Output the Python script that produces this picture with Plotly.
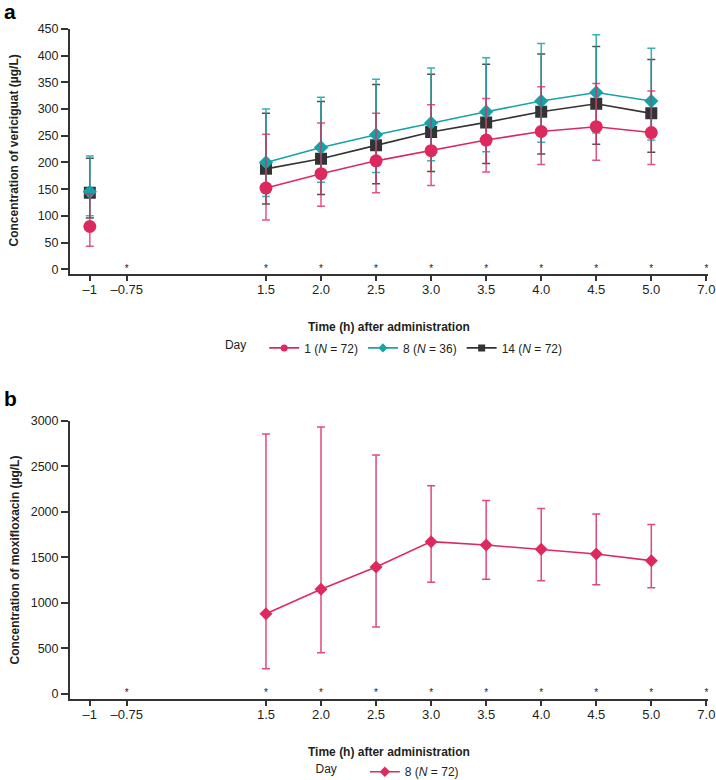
import plotly.graph_objects as go

# time points (h) and tick labels of the shared x axis
tick_times = [-1, -0.75, 1.5, 2.0, 2.5, 3.0, 3.5, 4.0, 4.5, 5.0, 7.0]
tick_text = ["\u20131", "\u20130.75", "1.5", "2.0", "2.5", "3.0", "3.5", "4.0", "4.5", "5.0", "7.0"]
star_times = [-0.75, 1.5, 2.0, 2.5, 3.0, 3.5, 4.0, 4.5, 5.0, 7.0]

# panel a: vericiguat
veri_times = [-1, 1.5, 2.0, 2.5, 3.0, 3.5, 4.0, 4.5, 5.0]
day1_mean = [80, 152, 179, 203, 222, 242, 258, 267, 256]
day1_upper = [141, 253, 274, 292, 308, 320, 342, 348, 334]
day1_lower = [43, 92, 118, 143, 157, 182, 196, 204, 196]
day8_mean = [145, 200, 228, 252, 274, 295, 315, 331, 315]
day8_upper = [212, 300, 322, 356, 377, 396, 423, 439, 414]
day8_lower = [100, 136, 163, 181, 203, 220, 238, 255, 242]
day14_mean = [143, 188, 207, 232, 257, 275, 295, 310, 292]
day14_upper = [208, 292, 314, 346, 365, 384, 403, 417, 393]
day14_lower = [96, 122, 140, 160, 183, 198, 216, 234, 219]

# panel b: moxifloxacin
moxi_times = [1.5, 2.0, 2.5, 3.0, 3.5, 4.0, 4.5, 5.0]
moxi_mean = [882, 1150, 1395, 1674, 1637, 1590, 1538, 1465]
moxi_upper = [2857, 2934, 2626, 2289, 2125, 2037, 1978, 1861]
moxi_lower = [278, 454, 736, 1227, 1260, 1245, 1201, 1168]

# the x axis is not linear: place each time at its slot on the axis
slot = {-1: -3.2, -0.75: -2.53, 1.5: 0, 2.0: 1, 2.5: 2, 3.0: 3, 3.5: 4,
        4.0: 5, 4.5: 6, 5.0: 7, 7.0: 8}

PINK = "#DC2A5F"
TEAL = "#16A3A7"
DARK = "#333333"
TXT = "#231F20"
FONT = "Arial, Liberation Sans, sans-serif"
NARROW = "Liberation Sans Narrow, Arial Narrow, Liberation Sans, sans-serif"


def series(times, mean, upper, lower, color, symbol, size, ax, errcol):
    # pre-dose point is not joined to the post-dose curve
    x, y, up, dn = [], [], [], []
    for i, t in enumerate(times):
        if i > 0 and times[i - 1] < 0 <= t:
            x.append(None); y.append(None); up.append(None); dn.append(None)
        x.append(slot[t])
        y.append(mean[i])
        up.append(upper[i] - mean[i])
        dn.append(mean[i] - lower[i])
    return go.Scatter(
        x=x, y=y, mode="lines+markers", connectgaps=False, showlegend=False,
        line=dict(color=color, width=1.6),
        marker=dict(color=color, symbol=symbol, size=size),
        error_y=dict(type="data", array=up, arrayminus=dn,
                     color=errcol, thickness=1.5, width=4),
        xaxis="x" if ax == 1 else "x2", yaxis="y" if ax == 1 else "y2",
    )


def legend_entry(name, color, symbol, size, legend, rank, ax):
    # legend-only trace, so the key symbol can be smaller than the plotted marker
    return go.Scatter(
        x=[None], y=[None], name=name, mode="lines+markers",
        line=dict(color=color, width=1.6), marker=dict(color=color, symbol=symbol, size=size),
        legend=legend, legendrank=rank,
        xaxis="x" if ax == 1 else "x2", yaxis="y" if ax == 1 else "y2",
    )


fig = go.Figure()
fig.add_trace(series(veri_times, day14_mean, day14_upper, day14_lower,
                     DARK, "square", 12, 1, "rgba(51,51,51,0.85)"))
fig.add_trace(series(veri_times, day8_mean, day8_upper, day8_lower,
                     TEAL, "diamond", 11, 1, "rgba(22,163,167,0.85)"))
fig.add_trace(series(veri_times, day1_mean, day1_upper, day1_lower,
                     PINK, "circle", 13, 1, "rgba(220,42,95,0.8)"))
fig.add_trace(series(moxi_times, moxi_mean, moxi_upper, moxi_lower,
                     PINK, "diamond", 10, 2, "rgba(220,42,95,0.85)"))

fig.add_trace(legend_entry("1 (<i>N</i> = 72)", PINK, "circle", 7, "legend", 1, 1))
fig.add_trace(legend_entry("8 (<i>N</i> = 36)", TEAL, "diamond", 7, "legend", 2, 1))
fig.add_trace(legend_entry("14 (<i>N</i> = 72)", DARK, "square", 7, "legend", 3, 1))
fig.add_trace(legend_entry("8 (<i>N</i> = 72)", PINK, "diamond", 8, "legend2", 1, 2))

# asterisks along the baseline of each panel
for xa, ya in [("x", "y"), ("x2", "y2")]:
    fig.add_trace(go.Scatter(
        x=[slot[t] for t in star_times], y=[0] * len(star_times), mode="text",
        text=["*"] * len(star_times), textposition="middle center",
        textfont=dict(size=10, color="#222222", family=FONT),
        showlegend=False, hoverinfo="skip", cliponaxis=False, xaxis=xa, yaxis=ya))

xaxis_style = dict(
    range=[-3.56, 8.03], tickvals=[slot[t] for t in tick_times], ticktext=tick_text,
    showline=True, linecolor=DARK, linewidth=2, ticks="outside", ticklen=5,
    tickwidth=1.5, tickcolor=DARK, showgrid=False, zeroline=False, automargin=False,
    ticklabelstandoff=-3,
    tickfont=dict(family=NARROW, size=13, color=TXT),
)
yaxis_style = dict(
    showline=True, linecolor=DARK, linewidth=2, ticks="outside", ticklen=7,
    tickwidth=1.5, tickcolor=DARK, showgrid=False, zeroline=False, automargin=False,
    tickfont=dict(family=FONT, size=12.5, color=TXT),
)

fig.update_layout(
    width=716, height=780,
    margin=dict(l=70, r=8, t=29, b=81, autoexpand=False),
    paper_bgcolor="white", plot_bgcolor="white",
    font=dict(family=FONT, color=TXT, size=12),
    xaxis=dict(domain=[0, 1], anchor="y", **xaxis_style),
    yaxis=dict(domain=[0.634, 1.0], anchor="x", range=[-9.4, 450],
               tickvals=[0, 50, 100, 150, 200, 250, 300, 350, 400, 450], **yaxis_style),
    xaxis2=dict(domain=[0, 1], anchor="y2", **xaxis_style),
    yaxis2=dict(domain=[0, 0.415], anchor="x2", range=[-55, 3000],
                tickvals=[0, 500, 1000, 1500, 2000, 2500, 3000], **yaxis_style),
    legend=dict(orientation="h", x=0.51, xanchor="center", y=0.524, yanchor="middle",
                title=dict(text="Day   ", font=dict(size=12, color=TXT)),
                font=dict(size=12, color=TXT), itemwidth=30, traceorder="normal",
                bgcolor="rgba(0,0,0,0)"),
    legend2=dict(orientation="h", x=0.5, xanchor="center", y=-0.1085, yanchor="middle",
                 title=dict(text="Day      ", font=dict(size=12, color=TXT)),
                 font=dict(size=12, color=TXT), itemwidth=30,
                 bgcolor="rgba(0,0,0,0)"),
    showlegend=True,
)

for txt, y in [("a", 1.0254), ("b", 0.4478)]:
    fig.add_annotation(xref="paper", yref="paper", xanchor="left", yanchor="middle",
                       showarrow=False, x=-0.107, y=y, text="<b>" + txt + "</b>",
                       font=dict(family=FONT, color="black", size=21))

for txt, y in [("Concentration of vericiguat (\u00b5g/L)", 0.8194),
               ("Concentration of moxifloxacin (\u00b5g/L)", 0.2075)]:
    fig.add_annotation(xref="paper", yref="paper", x=-0.087, y=y, textangle=-90,
                       xanchor="center", yanchor="middle",
                       showarrow=False, text="<b>" + txt + "</b>",
                       font=dict(family=FONT, size=12, color=TXT))

for y in [0.5557, -0.0787]:
    fig.add_annotation(xref="paper", yref="paper", x=0.5, y=y, showarrow=False,
                       xanchor="center", yanchor="middle",
                       text="<b>Time (h) after administration</b>",
                       font=dict(family=FONT, size=12, color=TXT))

fig.write_html("out.html", config={"displayModeBar": False},
               post_script="document.body.style.margin='0';")
